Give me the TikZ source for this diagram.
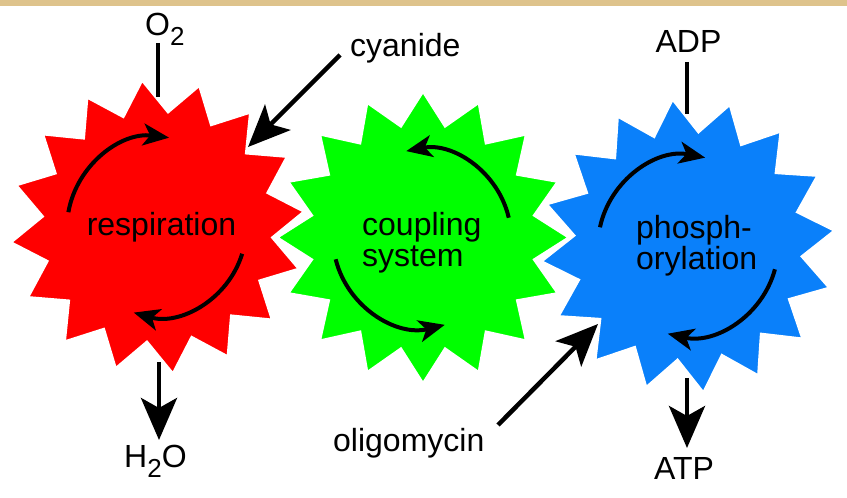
\documentclass[tikz,border=0pt]{standalone}
\usepackage{fontspec}
\setmainfont{Liberation Sans}
\usetikzlibrary{arrows.meta}
\definecolor{bandtan}{RGB}{222,195,140}
\definecolor{starred}{RGB}{255,0,0}
\definecolor{stargreen}{RGB}{0,255,0}
\definecolor{starblue}{RGB}{10,128,250}
\newcommand\mystarfill[6]{%
  \begin{scope}[shift={(#2,#3)}]
    \filldraw[fill=#1,draw=white,line width=2pt,line join=miter]
      (#6:#4) \foreach \k in {1,...,16}{ -- ({#6+\k*22.5-11.25}:#5) -- ({#6+\k*22.5}:#4)} -- cycle;
  \end{scope}}
\tikzset{
  lbl/.style={font=\fontsize{32}{31}\selectfont, inner sep=0pt, text=black},
  cyc/.style={line width=4pt, -{Stealth[length=26pt,width=22pt,inset=7pt]}},
  bigarrow/.style={line width=4.5pt, -{Stealth[length=42pt,width=36pt,inset=10pt]}},
  stem/.style={line width=4pt},
}
\begin{document}
\begin{tikzpicture}[x=1pt,y=1pt]
\useasboundingbox (0,0) rectangle (847,498);
\fill[white] (0,0) rectangle (847,498);
\fill[bandtan] (0,492) rectangle (847,498);

% stars (blue behind green behind red)
\mystarfill{starblue}{688}{252}{147}{114}{6}
\mystarfill{stargreen}{423}{260.5}{145.5}{113}{0}
\mystarfill{starred}{157.5}{271}{147}{115}{6}

% centres of the cycles
\coordinate (rc) at (158,270);
\coordinate (gc) at (423,260.5);
\coordinate (bc) at (688,252);

% cycle arrows
\draw[cyc] ([shift={(170:91)}]rc) arc[start angle=170, end angle=83, radius=91];
\draw[cyc] ([shift={(-17:88)}]rc) arc[start angle=-17, end angle=-106, radius=88];
\draw[cyc] ([shift={(13:88)}]gc) arc[start angle=13, end angle=101, radius=88];
\draw[cyc] ([shift={(194:90)}]gc) arc[start angle=194, end angle=284, radius=90];
\draw[cyc] ([shift={(168:90)}]bc) arc[start angle=168, end angle=79, radius=90];
\draw[cyc] ([shift={(-15:90)}]bc) arc[start angle=-15, end angle=-103, radius=90];

% texts in the stars
\node[lbl, anchor=base] (resp) at (161.5,262) {respiration};
\node[lbl, anchor=north west, align=left] (coup) at (362,286) {coupling\\system};
\node[lbl, anchor=north west, align=left] (phos) at (636,283) {phosph-\\orylation};

% outer labels
\node[lbl, anchor=base west] (o2) at (145,462) {O\raisebox{-10pt}{\fontsize{26}{26}\selectfont 2}};
\node[lbl, anchor=base west] (cyan) at (350,441) {cyanide};
\node[lbl, anchor=base] (adp) at (688.5,445) {ADP};
\node[lbl, anchor=base west] (h2o) at (124,30) {H\raisebox{-10pt}{\fontsize{26}{26}\selectfont 2}O};
\node[lbl, anchor=base west] (oligo) at (333,46) {oligomycin};
\node[lbl, anchor=base] (atp) at (684,18) {ATP};

% connector end points
\coordinate (o2a) at (158,455);
\coordinate (o2b) at (158,401);
\coordinate (adpa) at (687,436);
\coordinate (adpb) at (687,384);
\coordinate (h2oa) at (159,136);
\coordinate (h2ob) at (159,58);
\coordinate (atpa) at (687,120);
\coordinate (atpb) at (687,50);
\coordinate (cya) at (340,443);
\coordinate (cyb) at (248,351);
\coordinate (ola) at (498,73);
\coordinate (olb) at (598,174);

\draw[stem] (o2a) -- (o2b);
\draw[stem] (adpa) -- (adpb);
\draw[bigarrow] (h2oa) -- (h2ob);
\draw[bigarrow] (atpa) -- (atpb);
\draw[bigarrow] (cya) -- (cyb);
\draw[bigarrow] (ola) -- (olb);
\end{tikzpicture}
\end{document}
